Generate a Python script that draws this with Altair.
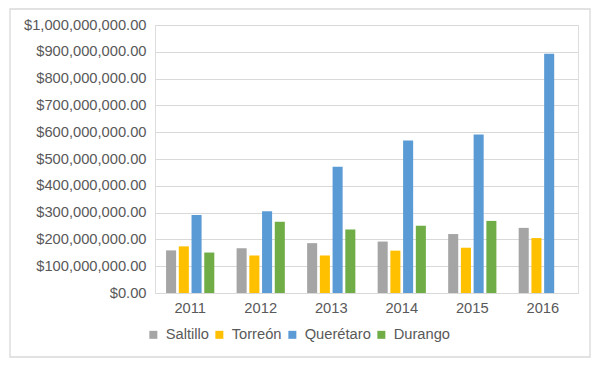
import altair as alt
import pandas as pd

years = ["2011", "2012", "2013", "2014", "2015", "2016"]
series = ["Saltillo", "Torreón", "Querétaro", "Durango"]
saltillo = [159e6, 167e6, 186e6, 192e6, 220e6, 243e6]
torreon = [174e6, 140e6, 140e6, 158e6, 169e6, 205e6]
queretaro = [291e6, 305e6, 471e6, 569e6, 591e6, 893e6]
durango = [151e6, 266e6, 237e6, 251e6, 269e6, None]
colors = ["#a5a5a5", "#ffc000", "#5b9bd5", "#70ad47"]

rows = []
for name, vals in zip(series, [saltillo, torreon, queretaro, durango]):
    for y, v in zip(years, vals):
        if v is not None:
            rows.append({"year": y, "city": name, "value": v})
df = pd.DataFrame(rows)

font = "Liberation Sans"
grey = "#595959"

bars = alt.Chart(df).mark_bar().encode(
    x=alt.X("year:N", sort=years, title=None,
            scale=alt.Scale(paddingInner=0.316, paddingOuter=0.157),
            axis=alt.Axis(labelAngle=0, ticks=False, labelPadding=7,
                          domainColor="#d9d9d9", domainWidth=1,
                          labelFontSize=14.7, labelColor=grey, labelFont=font)),
    xOffset=alt.XOffset("city:N", sort=series,
                        scale=alt.Scale(domain=series, paddingInner=0.21, paddingOuter=0)),
    y=alt.Y("value:Q", title=None,
            scale=alt.Scale(domain=[0, 1e9], nice=False),
            axis=alt.Axis(values=[i * 1e8 for i in range(11)], format="$,.2f",
                          ticks=False, domain=False, labelPadding=9,
                          gridColor="#d9d9d9", gridWidth=1,
                          labelFontSize=14.7, labelColor=grey, labelFont=font)),
    color=alt.Color("city:N", sort=series,
                    scale=alt.Scale(domain=series, range=colors),
                    legend=alt.Legend(title=None, orient="none", direction="horizontal",
                                      legendX=-9, legendY=302,
                                      symbolType="square", symbolSize=64,
                                      symbolStrokeWidth=0, labelOffset=5,
                                      columnPadding=3, padding=0,
                                      labelFontSize=14.7, labelColor=grey,
                                      labelFont=font)),
)

frame = alt.Chart(alt.Data(values=[{}])).mark_rect(
    fill=None, stroke="#d9d9d9", strokeWidth=1.3
).encode(
    x=alt.value(-145), x2=alt.value(435), y=alt.value(-16), y2=alt.value(332)
)

chart = alt.layer(bars, frame).properties(
    width=423, height=268,
    autosize=alt.AutoSizeParams(type="none"),
    padding={"left": 147, "top": 17, "right": 14, "bottom": 66},
).configure_view(stroke=None).configure(background="white")

chart.save("out.html", embed_options={"renderer": "svg", "actions": False})
